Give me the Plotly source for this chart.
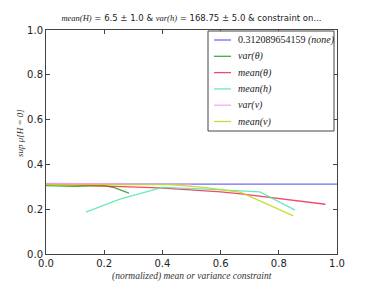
import plotly.graph_objects as go

# ---- data ----
none_x = [0.0, 1.0]
none_y = [0.312, 0.312]

var_theta_x = [0.0, 0.05, 0.1, 0.15, 0.2, 0.23, 0.285]
var_theta_y = [0.305, 0.302, 0.302, 0.304, 0.305, 0.298, 0.272]

mean_theta_x = [0.0, 0.2, 0.39, 0.6, 0.67, 0.96]
mean_theta_y = [0.312, 0.305, 0.295, 0.277, 0.268, 0.222]

mean_h_x = [0.137, 0.254, 0.40, 0.55, 0.735, 0.856]
mean_h_y = [0.187, 0.245, 0.297, 0.290, 0.277, 0.196]

var_v_x = [0.0, 0.1, 0.2, 0.3, 0.4, 0.5]
var_v_y = [0.315, 0.314, 0.312, 0.311, 0.310, 0.310]

mean_v_x = [0.0, 0.2, 0.43, 0.55, 0.67, 0.85]
mean_v_y = [0.310, 0.310, 0.310, 0.296, 0.275, 0.170]

tick_vals = [0.0, 0.2, 0.4, 0.6, 0.8, 1.0]
tick_text = ["0.0", "0.2", "0.4", "0.6", "0.8", "1.0"]

series_names = ["0.312089654159 <i>(none)</i>", "<i>var(θ)</i>", "<i>mean(θ)</i>",
                "<i>mean(h)</i>", "<i>var(v)</i>", "<i>mean(v)</i>"]

SERIF = "Liberation Serif"
SANS = "DejaVu Sans"

# layout constants (pixels)
W, H = 374, 283
ML, MR, MT, MB = 46, 37, 30, 29
PW, PH = W - ML - MR, H - MT - MB


def px(x):
    return (x - ML) / PW


def py(y):
    return (H - MB - y) / PH


def m(s):
    return f'<span style="font-family:{SERIF}"><i>{s}</i></span>'


colors = ["rgba(60,60,240,0.75)", "rgba(20,150,20,0.8)", "rgba(235,30,70,0.8)",
          "rgba(80,230,170,0.85)", "rgba(255,150,240,0.85)", "rgba(200,215,30,0.9)"]
data = [(none_x, none_y), (var_theta_x, var_theta_y), (mean_theta_x, mean_theta_y),
        (mean_h_x, mean_h_y), (var_v_x, var_v_y), (mean_v_x, mean_v_y)]

fig = go.Figure()
for (xs, ys), name, col in zip(data, series_names, colors):
    fig.add_trace(go.Scatter(x=xs, y=ys, mode="lines", name=name,
                             line=dict(color=col, width=1.3), showlegend=False,
                             hoverinfo="skip"))

axis_common = dict(
    range=[0, 1], tickvals=tick_vals, ticktext=tick_text,
    ticks="inside", ticklen=4, tickcolor="#444",
    showline=True, linecolor="#444", linewidth=1, mirror="ticks",
    showgrid=False, zeroline=False, automargin=False,
    tickfont=dict(family=SANS, size=10, color="#222"),
)

# custom legend box (matplotlib style)
shapes = [dict(type="rect", xref="paper", yref="paper",
               x0=px(208), x1=px(334), y0=py(131), y1=py(31),
               line=dict(color="#444", width=1), fillcolor="white", layer="above")]
annotations = []
for i, (name, col) in enumerate(zip(series_names, colors)):
    yy = 40 + 16.3 * i
    shapes.append(dict(type="line", xref="paper", yref="paper",
                       x0=px(214), x1=px(231), y0=py(yy), y1=py(yy),
                       line=dict(color=col, width=1.3), layer="above"))
    annotations.append(dict(text=name, xref="paper", yref="paper",
                            x=px(236), y=py(yy), xanchor="left", yanchor="middle",
                            showarrow=False,
                            font=dict(family=SERIF, size=10, color="#222")))

# axis titles as annotations for exact placement
annotations.append(dict(text=m("(normalized) mean or variance constraint"),
                        xref="paper", yref="paper", x=px(192), y=py(276),
                        xanchor="center", yanchor="middle", showarrow=False,
                        font=dict(family=SERIF, size=9.5, color="#333")))
annotations.append(dict(text=m("sup μ[H = 0]"), textangle=-90,
                        xref="paper", yref="paper", x=px(20), y=py(133),
                        xanchor="center", yanchor="middle", showarrow=False,
                        font=dict(family=SERIF, size=9, color="#333")))

fig.update_layout(
    width=W, height=H, autosize=False,
    margin=dict(l=ML, r=MR, t=MT, b=MB, pad=0),
    paper_bgcolor="white", plot_bgcolor="white",
    title=dict(
        text=m("mean(H)") + " = 6.5 ± 1.0 &amp; " + m("var(h)") + " = 168.75 ± 5.0 &amp; constraint on...",
        x=0.512, xanchor="center", y=1 - 18 / H, yanchor="middle",
        font=dict(family=SANS, size=8.5, color="#222"),
    ),
    xaxis=axis_common,
    yaxis=axis_common,
    shapes=shapes,
    annotations=annotations,
    showlegend=False,
    hovermode=False,
)

fig.write_html("out.html", post_script="document.body.style.margin='0';",
               config={"displayModeBar": False, "staticPlot": True})
